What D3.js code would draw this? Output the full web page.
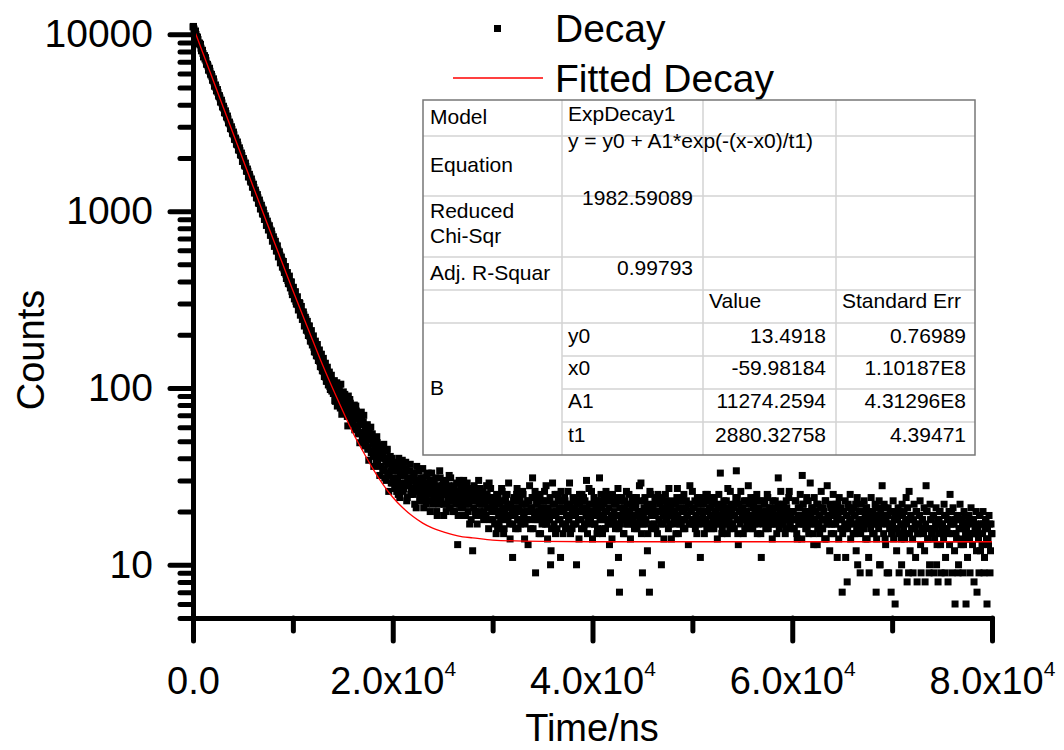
<!DOCTYPE html>
<meta charset="utf-8">
<style>
    body {
        margin: 0;
        background: white;
    }

    text {
        font-family: "Liberation Sans", Arial, sans-serif;
        fill: black;
    }

    .tbl text {
        font-size: 21px;
    }
</style>

<body>
    <script src="https://d3js.org/d3.v7.min.js"></script>
    <script>

        // decay curve, channels every 100 ns from t = 0
        const tStart = 0;
        const tStep = 100;
        const counts = [
            11020, 10710, 10270, 9985, 9560, 9340, 8930, 8720, 8350, 8130,
            7790, 7580, 7250, 7090, 6770, 6620, 6310, 6180, 5890, 5760,
            5490, 5380, 5120, 5010, 4780, 4690, 4450, 4370, 4160, 4090,
            3870, 3810, 3610, 3560, 3380, 3320, 3150, 3110, 2930, 2900,
            2740, 2700, 2550, 2530, 2380, 2360, 2220, 2200, 2070, 2060,
            1930, 1920, 1800, 1790, 1680, 1680, 1570, 1560, 1460, 1460,
            1365, 1360, 1275, 1270, 1185, 1190, 1105, 1110, 1030, 1040,
            960, 970, 900, 905, 840, 845, 785, 790, 730, 740,
            683, 690, 638, 645, 595, 602, 556, 563, 518, 527,
            506, 471, 478, 440, 449, 405, 419, 387, 398, 352,
            363, 338, 349, 309, 323, 296, 284, 301, 262, 270,
            248, 259, 227, 244, 218, 209, 224, 196, 205, 182,
            194, 170, 181, 159, 170, 151, 162, 141, 155, 131,
            142, 124, 137, 115, 126, 109, 120, 102, 112, 96,
            104,
            101, 85, 103, 107, 88, 81, 90, 105, 71, 90,
            81, 92, 75, 83, 61, 84, 86, 70, 72, 63,
            76, 58, 79, 67, 59, 72, 49, 63, 66, 56,
            70, 47, 55, 61, 45, 39, 54, 60, 44, 48,
            36, 50, 43, 53, 37, 44, 32, 47, 40, 34,
            48, 31, 38, 44, 32, 26, 39, 34, 40, 29,
            35, 28, 37, 26, 31, 40, 24, 33, 29, 36,
            27, 32, 38, 23, 30, 29, 34, 25, 31, 27,
            33, 22, 29, 36, 26, 30, 24, 31, 27, 35,
            21, 28, 25, 32, 27, 23, 30, 26, 33, 22,
            29, 25, 31, 20, 27, 24, 34, 23, 26, 28,
            19, 26, 30, 22, 25, 28, 21, 31, 24, 23,
            27, 20, 25, 29, 13, 24, 22, 28, 26, 21,
            30, 23, 19, 25, 27, 22, 17, 26, 24, 12,
            21, 25, 19, 27, 23, 30, 20, 24, 22, 26,
            18, 25, 23, 28, 21, 16, 24, 27, 20, 22,
            22, 17, 20, 25, 16, 19, 23, 18, 27, 21,
            15, 20, 24, 18, 22, 29, 17, 21, 19, 11,
            23, 20, 16, 25, 18, 21, 24, 17, 20, 26,
            19, 14, 22, 18, 23, 20, 28, 16, 21, 31,
            24, 19, 9, 22, 18, 25, 20, 15, 23, 19,
            21, 26, 17, 20, 14, 23, 18, 10, 16, 29,
            19, 22, 15, 20, 25, 18, 21, 11, 23, 17,
            20, 24, 16, 19, 22, 18, 29, 15, 21, 20,
            17, 23, 19, 10, 22, 18, 25, 20, 16, 21,
            24, 17, 20, 30, 15, 19, 22, 18, 26, 14,
            20, 17, 23, 19, 16, 22, 31, 18, 21, 15,
            19, 24, 16, 20, 18, 23, 13, 9, 17, 25,
            18, 22, 16, 19, 24, 11, 7, 17, 23, 19,
            15, 21, 18, 26, 17, 20, 22, 14, 19, 23,
            18, 16, 21, 24, 19, 17, 28, 20, 15, 9,
            19, 23, 17, 20, 12, 21, 7, 25, 16, 20,
            22, 17, 19, 24, 15, 20, 18, 23, 10, 21,
            17, 20, 25, 18, 22, 16, 19, 21, 14, 23,
            20, 17, 22, 19, 27, 15, 18, 21, 17, 24,
            16, 20, 18, 23, 19, 13, 22, 17, 20, 26,
            18, 21, 16, 19, 24, 17, 20, 11, 22, 18,
            23, 15, 20, 18, 25, 17, 21, 19, 16, 22,
            18, 24, 17, 20, 14, 21, 19, 33, 18, 16,
            22, 19, 17, 23, 15, 20, 18, 26, 17, 21,
            19, 16, 22, 34, 24, 13, 20, 17, 21, 19,
            15, 23, 18, 20, 17, 28, 19, 16, 22, 18,
            21, 17, 24, 19, 15, 20, 18, 23, 11, 19,
            17, 22, 18, 20, 25, 16, 19, 21, 17, 14,
            20, 18, 23, 17, 19, 31, 16, 21, 18, 22,
            17, 20, 15, 23, 18, 19, 26, 17, 20, 16,
            20, 16, 23, 18, 14, 21, 17, 25, 19, 32,
            22, 18, 20, 20, 16, 23, 17, 29, 19, 21,
            15, 24, 18, 20, 13, 22, 17, 19, 26, 16,
            21, 18, 23, 14, 28, 19, 17, 22, 15, 20,
            25, 17, 20, 22, 11, 19, 24, 18, 21, 7,
            20, 16, 23, 19, 8, 22, 17, 25, 18, 20,
            15, 21, 19, 12, 24, 17, 20, 9, 22, 18,
            16, 23, 19, 21, 14, 20, 9, 18, 24, 17,
            20, 15, 22, 7, 19, 17, 23, 10, 21, 28,
            19, 22, 14, 18, 9, 21, 17, 20, 7, 15,
            23, 18, 6, 20, 16, 21, 9, 19, 14, 22,
            17, 20, 15, 24, 8, 18, 26, 12, 19, 16,
            9, 22, 17, 20, 8, 15, 19, 23, 9, 18,
            16, 21, 8, 28, 20, 14, 9, 22, 18, 15,
            19, 9, 16, 21, 13, 8, 18, 20, 9, 17,
            15, 22, 9, 19, 16, 8, 20, 25, 18, 9,
            21, 17, 6, 15, 19, 9, 16, 22, 13, 18,
            9, 20, 16, 6, 17, 14, 19, 9, 21, 15,
            18, 8, 16, 20, 7, 15, 9, 19, 17, 13,
            20, 9, 16, 18, 6, 14, 19, 9, 17, 15
        ];

        // the channels in between, t = 50, 150, ...
        const halfOffset = 50;
        const countsHalf = [
            11080, 10290, 10440, 9700, 9650, 8860, 8910, 8780, 8070, 8110,
            7450, 7570, 7380, 6790, 6760, 6270, 6430, 5970, 5940, 5510,
            5600, 5090, 5170, 4800, 4870, 4520, 4500, 4140, 4240, 3900,
            3920, 3600, 3690, 3430, 3450, 3170, 3190, 2930, 3000, 2760,
            2800, 2550, 2590, 2400, 2460, 2220, 2280, 2090, 2130, 1910,
            1985, 1820, 1870, 1685, 1730, 1560, 1615, 1480, 1520, 1370,
            1420, 1265, 1315, 1195, 1240, 1115, 1155, 1030, 1080, 972,
            1015, 898, 940, 830, 878, 783, 827, 731, 773, 676,
            716, 632, 675, 596, 636, 551, 589, 510, 550, 482,
            519, 450, 486, 416, 449, 389, 429, 368, 397, 337,
            371, 319, 350, 298, 328, 276, 304, 258, 289, 244,
            269, 224, 251, 212, 238, 198, 224, 184, 211, 175,
            197, 160, 184, 152, 176, 143, 164, 132, 155, 125,
            147, 116, 138, 109, 131, 104, 123, 98, 118, 103,
            93, 110, 84, 99, 79, 96, 102, 77, 91, 83,
            95, 72, 88, 80, 69, 90, 73, 82, 64, 78,
            65, 80, 61, 74, 70, 55, 68, 62, 73, 52,
            64, 53, 58, 49, 62, 46, 57, 51, 43, 55,
            41, 52, 46, 39, 49, 42, 47, 36, 44, 41,
            43, 35, 40, 30, 45, 37, 33, 41, 29, 36,
            31, 38, 27, 34, 30, 25, 36, 32, 28, 39,
            26, 33, 29, 35, 24, 31, 28, 37, 27, 30,
            25, 32, 27, 21, 30, 28, 34, 23, 29, 26,
            31, 24, 27, 22, 29, 33, 25, 20, 28, 26,
            23, 30, 27, 25, 19, 28, 22, 31, 24, 27,
            29, 22, 25, 20, 27, 24, 32, 21, 26, 23,
            20, 28, 24, 22, 26, 19, 30, 23, 21, 25,
            24, 19, 27, 22, 29, 20, 23, 25, 18, 26,
            23, 28, 20, 24, 17, 25, 22, 27, 19, 23,
            26, 20, 22, 19, 25, 23, 29, 18, 24, 21,
            18, 23, 21, 15, 20, 24, 17, 22, 19, 26,
            20, 16, 23, 19, 25, 18, 21, 14, 22, 20,
            17, 24, 19, 21, 27, 16, 20, 23, 18, 22,
            25, 19, 17, 22, 20, 13, 23, 18, 21, 24,
            16, 20, 26, 18, 22, 19, 15, 24, 21, 17,
            23, 18, 20, 28, 17, 21, 19, 24, 12, 20,
            22, 17, 25, 19, 16, 23, 20, 18, 26, 21,
            15, 20, 23, 17, 21, 26, 18, 22, 19, 16,
            24, 19, 21, 17, 23, 20, 14, 22, 18, 25,
            20, 16, 23, 19, 21, 18, 27, 17, 20, 22,
            19, 24, 17, 21, 15, 20, 23, 18, 25, 19,
            16, 22, 20, 26, 18, 17, 21, 24, 19, 14,
            23, 20, 17, 22, 19, 27, 16, 21, 18, 24,
            20, 15, 23, 19, 22, 17, 25, 20, 18, 21,
            24, 17, 19, 22, 16, 20, 23, 18, 29, 19,
            17, 21, 24, 18, 22, 15, 20, 26, 19, 17,
            21, 19, 23, 16, 20, 25, 18, 22, 17, 24,
            19, 14, 21, 23, 18, 20, 27, 17, 22, 19,
            22, 18, 20, 15, 24, 19, 21, 17, 23, 20,
            18, 25, 16, 21, 19, 22, 17, 28, 20, 18,
            21, 17, 23, 19, 15, 22, 18, 24, 20, 17,
            19, 22, 18, 25, 16, 20, 23, 17, 21, 19,
            24, 16, 20, 18, 22, 19, 25, 17, 21, 15,
            20, 23, 18, 21, 17, 27, 19, 16, 22, 20,
            17, 21, 19, 24, 18, 15, 22, 20, 26, 18,
            21, 19, 16, 23, 20, 17, 22, 18, 24, 19,
            16, 22, 20, 18, 25, 17, 21, 19, 15, 23,
            20, 18, 22, 16, 19, 24, 17, 21, 18, 20,
            23, 17, 19, 21, 15, 22, 18, 20, 26, 17,
            19, 22, 18, 16, 21, 20, 24, 17, 19, 18,
            20, 16, 18, 23, 15, 19, 17, 21, 18, 14,
            22, 17, 19, 16, 24, 18, 15, 20, 17, 21,
            18, 13, 20, 17, 22, 16, 19, 15, 21, 18,
            16, 20, 14, 23, 17, 19, 18, 12, 21, 17,
            19, 15, 21, 17, 18, 22, 14, 20, 16, 18,
            15, 20, 17, 11, 19, 16, 21, 18, 14, 20,
            17, 19, 15, 22, 16, 10, 18, 20, 15, 17,
            20, 16, 18, 14, 21, 17, 11, 19, 16, 18,
            15, 19, 17, 21, 14, 18, 16, 10, 20, 17,
            18, 15, 21, 13, 17, 19, 9, 16, 20, 15,
            17, 14, 19, 16, 12, 18, 15, 20, 17, 10,
            19, 16, 14, 18, 17, 21, 9, 15, 19, 16,
            14, 18, 16, 11, 20, 15, 17, 19, 13, 16,
            18, 15, 12, 17, 20, 14, 16, 10, 18, 15,
            16, 19, 14, 17, 10, 18, 15, 20, 13, 16,
            17, 14, 19, 11, 16, 18, 15, 13, 17, 20,
            15, 17, 12, 18, 14, 19, 10, 16, 18, 14,
            17, 13, 19, 15, 16, 11, 18, 14, 17, 15,
            13, 18, 15, 17, 12, 16, 14, 19, 12, 17,
            15, 17, 11, 18, 14, 16, 13, 17, 12, 15
        ];

        // fitted curve
        const fitTimes = [0, 1000, 2000, 3000, 4000, 5000, 6000, 7000, 8000, 9000,
            10000, 11000, 12000, 13000, 14000, 15000, 16000, 17000, 18000, 19000,
            20000, 21000, 22000, 23000, 24000, 25000, 26000, 27000, 28000, 30000,
            35000, 40000, 60000, 80000];
        const fitCounts = [11055, 7817, 5528, 3910, 2767, 1960, 1389, 985, 700, 499,
            356, 256, 185, 134, 99, 74, 56, 44, 35, 28.6,
            24.1, 21.0, 18.8, 17.2, 16.1, 15.4, 14.8, 14.4, 14.2, 13.8,
            13.55, 13.5, 13.5, 13.5];

        const xMajorTicks = [0, 20000, 40000, 60000, 80000];
        const xMinorTicks = [10000, 30000, 50000, 70000];
        const yMajorTicks = [10, 100, 1000, 10000];

        const legendLabels = ["Decay", "Fitted Decay"];

        const fitModel = "ExpDecay1";
        const fitEquation = "y = y0 + A1*exp(-(x-x0)/t1)";
        const fitChiSqr = "1982.59089";
        const fitAdjR2 = "0.99793";
        const paramNames = ["y0", "x0", "A1", "t1"];
        const paramValues = ["13.4918", "-59.98184", "11274.2594", "2880.32758"];
        const paramErrors = ["0.76989", "1.10187E8", "4.31296E8", "4.39471"];

        const svg = d3.select("body").append("svg")
            .attr("width", 1064)
            .attr("height", 750);

        const x = d3.scaleLinear().domain([0, 80000]).range([193, 992]);
        const y = d3.scaleLog().domain([5, 11000]).range([618, 27]);

        // scatter
        const decay = counts.map((c, i) => ({ t: tStart + i * tStep, c: c }))
            .concat(countsHalf.map((c, i) => ({ t: tStart + halfOffset + i * tStep, c: c })));
        const sq = 7;
        svg.append("g")
            .selectAll("rect")
            .data(decay)
            .join("rect")
            .attr("x", d => x(d.t) - sq / 2)
            .attr("y", d => y(d.c) - sq / 2)
            .attr("width", sq)
            .attr("height", sq)
            .attr("fill", "black");

        // fit
        const line = d3.line()
            .x(d => x(d[0]))
            .y(d => y(d[1]))
            .curve(d3.curveMonotoneX);
        svg.append("path")
            .datum(d3.zip(fitTimes, fitCounts))
            .attr("d", line)
            .attr("fill", "none")
            .attr("stroke", "#ff0000")
            .attr("stroke-width", 1.3);

        function styleAxis(g) {
            g.select(".domain")
                .attr("stroke-width", 5)
                .attr("stroke-linecap", "round");
            g.selectAll(".tick line")
                .attr("stroke-width", 5)
                .attr("stroke-linecap", "round");
            g.selectAll("text")
                .attr("font-family", null)
                .attr("font-size", 38);
        }

        // y axis, minor then major
        const yMinor = y.ticks().filter(v => !yMajorTicks.includes(v));
        svg.append("g")
            .attr("transform", "translate(193,0)")
            .call(d3.axisLeft(y).tickValues(yMinor).tickSize(13).tickSizeOuter(0).tickFormat(""))
            .call(styleAxis);
        svg.append("g")
            .attr("transform", "translate(193,0)")
            .call(d3.axisLeft(y).tickValues(yMajorTicks).tickSize(23).tickPadding(17)
                .tickSizeOuter(0).tickFormat(d3.format("d")))
            .call(styleAxis)
            .selectAll("text").attr("font-size", 39);

        // x axis
        svg.append("g")
            .attr("transform", "translate(0,618)")
            .call(d3.axisBottom(x).tickValues(xMinorTicks).tickSize(13).tickSizeOuter(0).tickFormat(""))
            .call(styleAxis);
        const xg = svg.append("g")
            .attr("transform", "translate(0,618)")
            .call(d3.axisBottom(x).tickValues(xMajorTicks).tickSize(23).tickPadding(26).tickSizeOuter(0))
            .call(styleAxis);
        xg.selectAll(".tick text").each(function (d) {
            const t = d3.select(this).text(null);
            if (d === 0) {
                t.text("0.0");
                return;
            }
            const e = Math.floor(Math.log10(d));
            t.append("tspan").text((d / Math.pow(10, e)).toFixed(1) + "x10");
            t.append("tspan").attr("dy", -18).attr("font-size", 21).text(e);
        });

        // axis titles
        svg.append("text")
            .attr("transform", "translate(31,350) rotate(-90)")
            .attr("text-anchor", "middle")
            .attr("dominant-baseline", "central")
            .attr("font-size", 38)
            .text("Counts");
        svg.append("text")
            .attr("x", 592)
            .attr("y", 741)
            .attr("text-anchor", "middle")
            .attr("font-size", 38)
            .text("Time/ns");

        // legend
        const lg = svg.append("g");
        lg.append("rect").attr("x", 494).attr("y", 25).attr("width", 7).attr("height", 7).attr("fill", "black");
        lg.append("line").attr("x1", 453).attr("x2", 543).attr("y1", 78).attr("y2", 78)
            .attr("stroke", "#ff0000").attr("stroke-width", 1.3);
        lg.selectAll("text")
            .data(legendLabels)
            .join("text")
            .attr("x", 555)
            .attr("y", (d, i) => i === 0 ? 42 : 92)
            .attr("font-size", 39)
            .text(d => d);

        // fit results table
        const colX = [423, 562, 703, 836, 975];
        const rowY = [100, 136, 196, 257, 290, 323, 356, 389, 422, 455];
        const tb = svg.append("g").attr("class", "tbl");
        tb.append("rect")
            .attr("x", colX[0]).attr("y", rowY[0])
            .attr("width", colX[4] - colX[0]).attr("height", rowY[9] - rowY[0])
            .attr("fill", "white");

        const inner = tb.append("g").attr("stroke", "#d3d3d3").attr("stroke-width", 1.5);
        rowY.slice(1, 9).forEach((ry, i) => {
            inner.append("line")
                .attr("x1", i < 5 ? colX[0] : colX[1]).attr("x2", colX[4])
                .attr("y1", ry).attr("y2", ry);
        });
        colX.slice(1, 4).forEach(cx => {
            inner.append("line")
                .attr("x1", cx).attr("x2", cx)
                .attr("y1", rowY[0]).attr("y2", rowY[9]);
        });
        tb.append("rect")
            .attr("x", colX[0]).attr("y", rowY[0])
            .attr("width", colX[4] - colX[0]).attr("height", rowY[9] - rowY[0])
            .attr("fill", "none")
            .attr("stroke", "#777")
            .attr("stroke-width", 1.5);

        function cell(str, px, py, anchor) {
            tb.append("text")
                .attr("x", px)
                .attr("y", py)
                .attr("text-anchor", anchor || "start")
                .text(str);
        }
        cell("Model", 430, 124);
        cell(fitModel, 568, 121);
        cell("Equation", 430, 172);
        cell(fitEquation, 568, 148);
        cell("Reduced", 430, 218);
        cell("Chi-Sqr", 430, 243);
        cell(fitChiSqr, 693, 205, "end");
        cell("Adj. R-Squar", 430, 280);
        cell(fitAdjR2, 693, 275, "end");
        cell("Value", 709, 308);
        cell("Standard Err", 842, 308);
        cell("B", 430, 395);
        const paramBase = [343, 375, 408, 442];
        paramNames.forEach((p, i) => {
            cell(p, 568, paramBase[i]);
            cell(paramValues[i], 826, paramBase[i], "end");
            cell(paramErrors[i], 966, paramBase[i], "end");
        });

    </script>
</body>

</html>
